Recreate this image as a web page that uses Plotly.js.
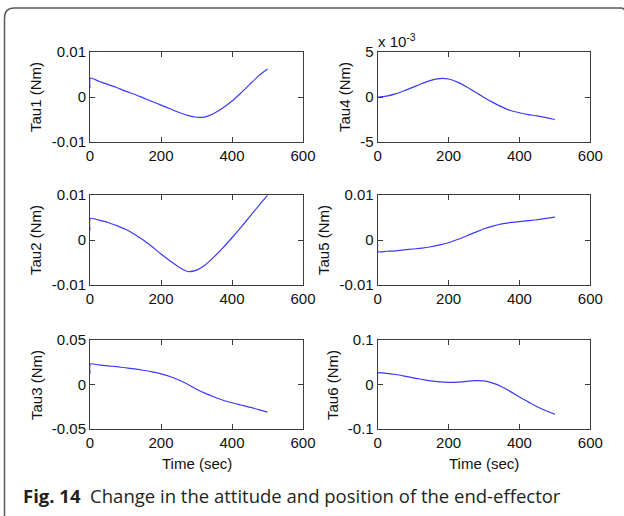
<!DOCTYPE html>
<html>
<head>
<meta charset="utf-8">
<script src="https://cdn.plot.ly/plotly-3.0.1.min.js"></script>
<style>
  html, body { margin: 0; padding: 0; background: #ffffff; }
  #chart { width: 624px; height: 516px; }
</style>
</head>
<body>
<div id="chart"></div>
<script>
// ---- data ----
const time = [0, 1, 25, 50, 75, 100, 125, 150, 175, 200, 225, 250, 275, 300, 325, 350, 375, 400, 425, 450, 475, 500];

const tau1 = [0.0020, 0.0042, 0.0035, 0.0028, 0.0021, 0.0013, 0.0006, -0.0002, -0.0010, -0.0018, -0.0026, -0.0034, -0.0041, -0.0045, -0.0044, -0.0036, -0.0024, -0.0009, 0.0009, 0.0028, 0.0047, 0.0062];
const tau2 = [0.0021, 0.0048, 0.0044, 0.0039, 0.0032, 0.0024, 0.0013, 0.0000, -0.0015, -0.0031, -0.0046, -0.0060, -0.0070, -0.0067, -0.0055, -0.0037, -0.0017, 0.0005, 0.0028, 0.0052, 0.0076, 0.0099];
const tau3 = [0.012, 0.023, 0.022, 0.021, 0.020, 0.0188, 0.0176, 0.016, 0.0142, 0.012, 0.009, 0.005, 0.0003, -0.0053, -0.010, -0.014, -0.0177, -0.0205, -0.023, -0.0255, -0.0283, -0.031];
// tau4 is shown in units of 1e-3 (axis multiplier "x 10^-3")
const tau4 = [0.0, 0.0, 0.1, 0.35, 0.7, 1.1, 1.5, 1.85, 2.05, 2.0, 1.65, 1.15, 0.55, -0.05, -0.6, -1.1, -1.5, -1.75, -1.95, -2.1, -2.3, -2.5];
const tau5 = [-0.0010, -0.0026, -0.0025, -0.0024, -0.0022, -0.0020, -0.0018, -0.0015, -0.0011, -0.0006, 0.0001, 0.0009, 0.0017, 0.0025, 0.0031, 0.0036, 0.0039, 0.0041, 0.0043, 0.0045, 0.0048, 0.0051];
const tau6 = [0.010, 0.026, 0.025, 0.0225, 0.019, 0.015, 0.0115, 0.008, 0.0058, 0.005, 0.0055, 0.007, 0.0085, 0.008, 0.003, -0.005, -0.016, -0.028, -0.039, -0.050, -0.059, -0.067];

const xTickVals = [0, 200, 400, 600];
const xTickText = ["0", "200", "400", "600"];

const yTicks1 = [-0.01, 0, 0.01];   const yText1 = ["-0.01", "0", "0.01"];
const yTicks2 = [-0.01, 0, 0.01];   const yText2 = ["-0.01", "0", "0.01"];
const yTicks3 = [-0.05, 0, 0.05];   const yText3 = ["-0.05", "0", "0.05"];
const yTicks4 = [-5, 0, 5];         const yText4 = ["-5", "0", "5"];
const yTicks5 = [-0.01, 0, 0.01];   const yText5 = ["-0.01", "0", "0.01"];
const yTicks6 = [-0.1, 0, 0.1];     const yText6 = ["-0.1", "0", "0.1"];

const yTitles = ["Tau1 (Nm)", "Tau2 (Nm)", "Tau3 (Nm)", "Tau4 (Nm)", "Tau5 (Nm)", "Tau6 (Nm)"];
const xTitle = "Time (sec)";
const multiplierText = "x 10<sup>-3</sup>";
const captionBold = "Fig. 14";
const captionText = "Change in the attitude and position of the end-effector";

// ---- layout helpers ----
const W = 624, H = 516;
const px = v => v / W;
const py = v => 1 - v / H;

const colL = [px(90), px(303)];
const colR = [px(377.7), px(590.3)];
const row1 = [py(142), py(52)];
const row2 = [py(285), py(195)];
const row3 = [py(429), py(340)];

const lineColor = "#3a3aff";
const axisColor = "#3c3c3c";
const tickFont = { family: "Liberation Sans, Arial, sans-serif", size: 15, color: "#111111" };

const series = [tau1, tau2, tau3, tau4, tau5, tau6];
const traces = series.map((s, i) => ({
  x: time, y: s,
  type: "scatter", mode: "lines",
  line: { color: lineColor, width: 1.2, shape: "spline", smoothing: 0.7 },
  xaxis: i === 0 ? "x" : "x" + (i + 1),
  yaxis: i === 0 ? "y" : "y" + (i + 1),
  showlegend: false, hoverinfo: "skip"
}));

function xa(domain, anchor) {
  return {
    domain: domain, anchor: anchor, range: [0, 600],
    tickmode: "array", tickvals: xTickVals, ticktext: xTickText,
    ticks: "inside", ticklen: 5, tickwidth: 1, tickcolor: axisColor,
    showline: true, linecolor: axisColor, linewidth: 1, mirror: "ticks",
    showgrid: false, zeroline: false, tickfont: tickFont, automargin: false,
    layer: "below traces"
  };
}
function ya(domain, anchor, range, tv, tt) {
  return {
    domain: domain, anchor: anchor, range: range,
    tickmode: "array", tickvals: tv, ticktext: tt,
    ticks: "inside", ticklen: 5, tickwidth: 1, tickcolor: axisColor,
    showline: true, linecolor: axisColor, linewidth: 1, mirror: "ticks",
    showgrid: false, zeroline: false, tickfont: tickFont, automargin: false,
    layer: "below traces"
  };
}

const titleFont = { family: "Liberation Sans, Arial, sans-serif", size: 15, color: "#111111" };
const yTitlePos = [[35, 97], [36, 240], [36, 385], [344, 97], [324, 240], [332, 385]];
const annotations = yTitles.map((t, i) => ({
  text: t, xref: "paper", yref: "paper",
  x: px(yTitlePos[i][0]), y: py(yTitlePos[i][1]),
  xanchor: "center", yanchor: "middle", textangle: -90,
  showarrow: false, font: titleFont
}));
annotations.push({ text: xTitle, xref: "paper", yref: "paper", x: px(196.5), y: py(463),
  xanchor: "center", yanchor: "middle", showarrow: false, font: titleFont });
annotations.push({ text: xTitle, xref: "paper", yref: "paper", x: px(484), y: py(463),
  xanchor: "center", yanchor: "middle", showarrow: false, font: titleFont });
annotations.push({ text: multiplierText, xref: "paper", yref: "paper", x: px(376), y: py(40),
  xanchor: "left", yanchor: "middle", showarrow: false, font: titleFont });
annotations.push({ text: "<b>" + captionBold + "</b>  " + captionText, xref: "paper", yref: "paper",
  x: px(21), y: py(495), xanchor: "left", yanchor: "middle", showarrow: false,
  font: { family: "Open Sans, Noto Sans, sans-serif", size: 18.5, color: "#231f20" } });

// rounded border (left/top edges visible, continuing past right & bottom)
const bx = 4.5, by = 8, r = 10;
const borderPath =
  "M " + px(bx) + "," + py(H + 4) +
  " L " + px(bx) + "," + py(by + r) +
  " Q " + px(bx) + "," + py(by) + " " + px(bx + r) + "," + py(by) +
  " L " + px(W - 3) + "," + py(by) +
  " Q " + px(W + 1) + "," + py(by) + " " + px(W + 1) + "," + py(by + 4);

const layout = {
  width: W, height: H,
  margin: { l: 0, r: 0, t: 0, b: 0 },
  paper_bgcolor: "#ffffff", plot_bgcolor: "#ffffff",
  showlegend: false,
  xaxis:  xa(colL, "y"),
  yaxis:  ya(row1, "x",  [-0.01, 0.01], yTicks1, yText1),
  xaxis2: xa(colL, "y2"),
  yaxis2: ya(row2, "x2", [-0.01, 0.01], yTicks2, yText2),
  xaxis3: xa(colL, "y3"),
  yaxis3: ya(row3, "x3", [-0.05, 0.05], yTicks3, yText3),
  xaxis4: xa(colR, "y4"),
  yaxis4: ya(row1, "x4", [-5, 5], yTicks4, yText4),
  xaxis5: xa(colR, "y5"),
  yaxis5: ya(row2, "x5", [-0.01, 0.01], yTicks5, yText5),
  xaxis6: xa(colR, "y6"),
  yaxis6: ya(row3, "x6", [-0.1, 0.1], yTicks6, yText6),
  annotations: annotations,
  shapes: [{ type: "path", xref: "paper", yref: "paper", path: borderPath,
             line: { color: "#5a5a5a", width: 1.5 } }]
};

Plotly.newPlot("chart", traces, layout, { staticPlot: true, displayModeBar: false });
</script>
</body>
</html>
